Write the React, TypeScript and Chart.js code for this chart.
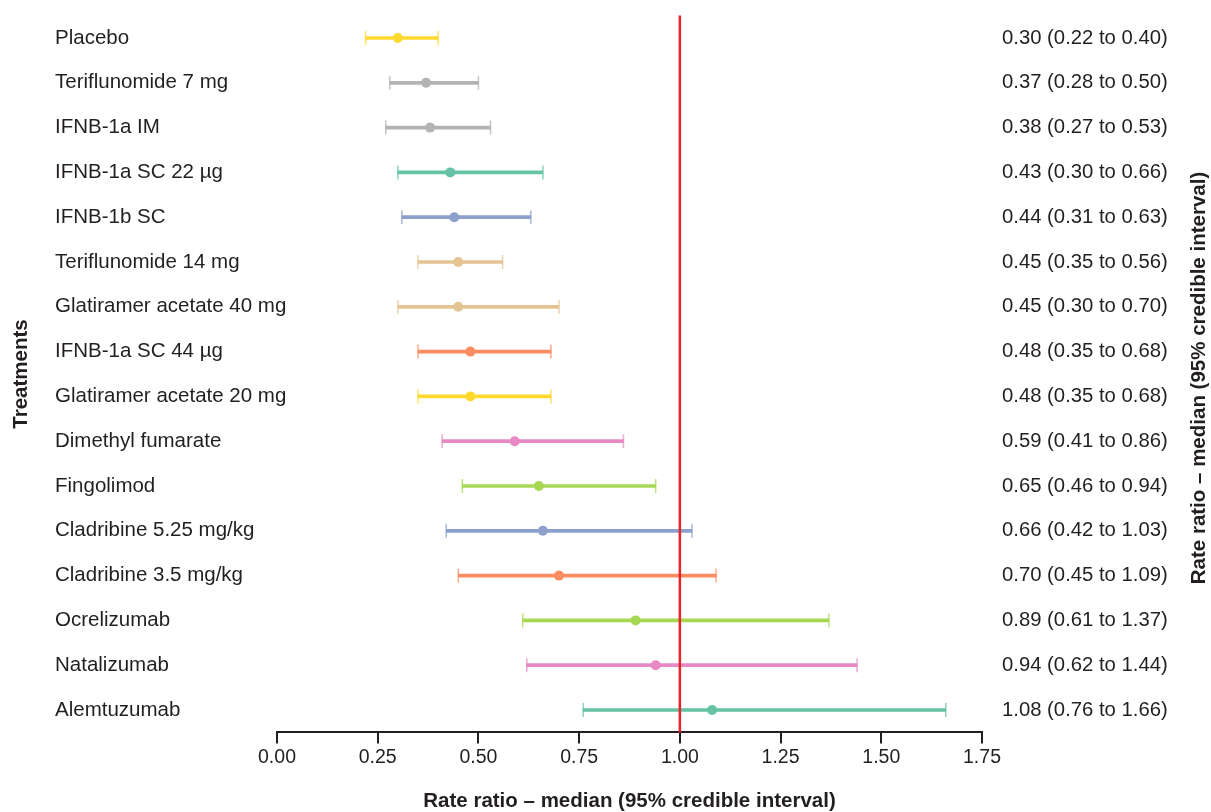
import React, { useEffect, useRef } from "react";
import { Chart, registerables } from "chart.js";

Chart.register(...registerables);

const treatments = [
  "Placebo",
  "Teriflunomide 7 mg",
  "IFNB-1a IM",
  "IFNB-1a SC 22 µg",
  "IFNB-1b SC",
  "Teriflunomide 14 mg",
  "Glatiramer acetate 40 mg",
  "IFNB-1a SC 44 µg",
  "Glatiramer acetate 20 mg",
  "Dimethyl fumarate",
  "Fingolimod",
  "Cladribine 5.25 mg/kg",
  "Cladribine 3.5 mg/kg",
  "Ocrelizumab",
  "Natalizumab",
  "Alemtuzumab",
];

const medians = [0.3, 0.37, 0.38, 0.43, 0.44, 0.45, 0.45, 0.48, 0.48, 0.59, 0.65, 0.66, 0.7, 0.89, 0.94, 1.08];
const lowers = [0.22, 0.28, 0.27, 0.3, 0.31, 0.35, 0.3, 0.35, 0.35, 0.41, 0.46, 0.42, 0.45, 0.61, 0.62, 0.76];
const uppers = [0.4, 0.5, 0.53, 0.66, 0.63, 0.56, 0.7, 0.68, 0.68, 0.86, 0.94, 1.03, 1.09, 1.37, 1.44, 1.66];

const colors = [
  "#FFD92F",
  "#B3B3B3",
  "#B3B3B3",
  "#66C2A5",
  "#8DA0CB",
  "#E5C494",
  "#E5C494",
  "#FC8D62",
  "#FFD92F",
  "#E78AC3",
  "#A6D854",
  "#8DA0CB",
  "#FC8D62",
  "#A6D854",
  "#E78AC3",
  "#66C2A5",
];

const xMin = 0;
const xMax = 1.75;
const xStep = 0.25;
const referenceValue = 1;

const xTitle = "Rate ratio – median (95% credible interval)";
const yTitle = "Treatments";
const rightTitle = "Rate ratio – median (95% credible interval)";

const FONT = "'Liberation Sans', Arial, Helvetica, sans-serif";
const TEXT = "#231F20";

function withAlpha(hex: string, a: number) {
  const n = parseInt(hex.slice(1), 16);
  return `rgba(${(n >> 16) & 255},${(n >> 8) & 255},${n & 255},${a})`;
}

export default function App() {
  const ref = useRef<HTMLCanvasElement>(null);

  useEffect(() => {
    document.body.style.margin = "0";
    const valueLabels = medians.map(
      (m, i) => `${m.toFixed(2)} (${lowers[i].toFixed(2)} to ${uppers[i].toFixed(2)})`
    );

    const overlay = {
      id: "overlay",
      afterDatasetsDraw(chart: any) {
        const { ctx, chartArea, scales } = chart;
        const x = scales.x.getPixelForValue(referenceValue);
        ctx.save();
        ctx.strokeStyle = "#E8232A";
        ctx.lineWidth = 2.5;
        ctx.beginPath();
        ctx.moveTo(x, chartArea.top);
        ctx.lineTo(x, chartArea.bottom);
        ctx.stroke();
        ctx.restore();
      },
      afterDraw(chart: any) {
        const { ctx, chartArea, scales } = chart;
        ctx.save();
        ctx.fillStyle = TEXT;
        ctx.font = `20.5px ${FONT}`;
        ctx.textAlign = "left";
        ctx.textBaseline = "middle";
        treatments.forEach((t, i) => {
          ctx.fillText(t, 55, scales.y.getPixelForValue(i));
        });
        ctx.font = `bold 20.5px ${FONT}`;
        ctx.textAlign = "center";
        const cy = (chartArea.top + chartArea.bottom) / 2;
        ctx.save();
        ctx.translate(21, cy);
        ctx.rotate(-Math.PI / 2);
        ctx.fillText(yTitle, 0, 0);
        ctx.restore();
        ctx.save();
        ctx.translate(1199, cy + 4);
        ctx.rotate(-Math.PI / 2);
        ctx.fillText(rightTitle, 0, 0);
        ctx.restore();
        ctx.fillText(xTitle, (chartArea.left + chartArea.right) / 2, 801);
        ctx.restore();
      },
    };

    const chart = new Chart(ref.current as HTMLCanvasElement, {
      type: "bar",
      data: {
        labels: treatments,
        datasets: [
          {
            type: "scatter",
            data: medians.map((m, i) => ({ x: m, y: treatments[i] })),
            pointRadius: 5,
            pointHoverRadius: 5,
            pointBackgroundColor: colors,
            pointBorderWidth: 0,
            order: 0,
          } as any,
          {
            type: "bar",
            indexAxis: "y",
            data: lowers.map((l, i) => [l, uppers[i]]),
            backgroundColor: colors,
            borderWidth: 0,
            borderSkipped: false,
            barThickness: 3,
            order: 1,
          } as any,
          {
            type: "scatter",
            data: lowers.map((l, i) => ({ x: l, y: treatments[i] })),
            pointStyle: "line",
            rotation: 90,
            pointRadius: 7,
            pointHoverRadius: 7,
            pointBorderColor: colors.map((c) => withAlpha(c, 0.75)),
            pointBorderWidth: 1.5,
            order: 2,
          } as any,
          {
            type: "scatter",
            data: uppers.map((u, i) => ({ x: u, y: treatments[i] })),
            pointStyle: "line",
            rotation: 90,
            pointRadius: 7,
            pointHoverRadius: 7,
            pointBorderColor: colors.map((c) => withAlpha(c, 0.75)),
            pointBorderWidth: 1.5,
            order: 2,
          } as any,
        ],
      },
      options: {
        indexAxis: "y",
        animation: false,
        responsive: true,
        maintainAspectRatio: false,
        layout: { padding: { left: 55, top: 15.6, right: 0, bottom: 0 } },
        plugins: { legend: { display: false }, tooltip: { enabled: false } },
        scales: {
          x: {
            type: "linear",
            position: "bottom",
            min: xMin,
            max: xMax,
            ticks: {
              stepSize: xStep,
              color: TEXT,
              font: { family: FONT, size: 19.5 },
              padding: 3,
              callback: (v: any) => Number(v).toFixed(2),
            },
            grid: {
              drawOnChartArea: false,
              drawTicks: true,
              tickLength: 11,
              color: TEXT,
              lineWidth: 2,
            },
            border: { display: true, color: TEXT, width: 2 },
            afterFit: (s: any) => {
              s.height = 79.6;
            },
          },
          y: {
            type: "category",
            position: "left",
            offset: true,
            ticks: { display: false },
            grid: { display: false, drawTicks: false },
            border: { display: false },
            afterFit: (s: any) => {
              s.width = 222;
            },
          },
          y2: {
            type: "category",
            position: "right",
            labels: valueLabels,
            offset: true,
            ticks: {
              crossAlign: "near",
              padding: 20,
              color: TEXT,
              font: { family: FONT, size: 20.3 },
            },
            grid: { display: false, drawTicks: false },
            border: { display: false },
            afterFit: (s: any) => {
              s.width = 229;
              s.paddingTop = 0;
              s.paddingBottom = 0;
            },
          },
        },
      } as any,
      plugins: [overlay],
    });
    return () => chart.destroy();
  }, []);

  return (
    <div style={{ width: 1211, height: 812, position: "relative" }}>
      <canvas ref={ref} />
    </div>
  );
}
